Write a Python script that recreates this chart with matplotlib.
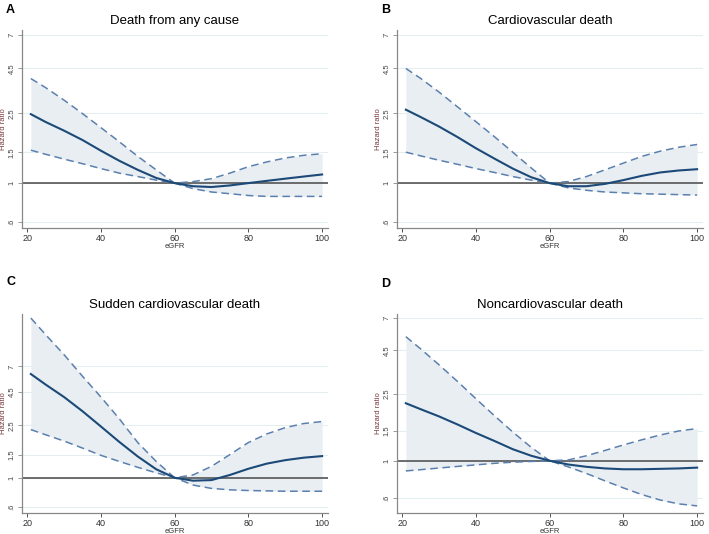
import numpy as np
import matplotlib
matplotlib.use("Agg")
import matplotlib.pyplot as plt

plt.rcParams['font.family'] = ['Liberation Sans', 'DejaVu Sans']

egfr = [21, 25, 30, 35, 40, 45, 50, 55, 60, 65, 70, 75, 80, 85, 90, 95, 100]

titles = ["Death from any cause", "Cardiovascular death",
          "Sudden cardiovascular death", "Noncardiovascular death"]
letters = ["A", "B", "C", "D"]

# hazard ratios
hr_a = [2.47, 2.23, 1.99, 1.76, 1.53, 1.34, 1.19, 1.07, 1.00, 0.96, 0.95, 0.97, 1.00, 1.03, 1.06, 1.09, 1.12]
up_a = [3.94, 3.50, 2.97, 2.49, 2.07, 1.72, 1.42, 1.19, 1.00, 1.02, 1.06, 1.14, 1.24, 1.32, 1.39, 1.44, 1.47]
lo_a = [1.54, 1.46, 1.37, 1.29, 1.21, 1.14, 1.09, 1.04, 1.00, 0.93, 0.89, 0.87, 0.85, 0.84, 0.84, 0.84, 0.84]

hr_b = [2.62, 2.38, 2.10, 1.83, 1.58, 1.38, 1.21, 1.08, 1.00, 0.96, 0.96, 0.99, 1.04, 1.10, 1.15, 1.18, 1.20]
up_b = [4.50, 3.95, 3.30, 2.72, 2.24, 1.84, 1.50, 1.22, 1.00, 1.02, 1.09, 1.19, 1.30, 1.42, 1.52, 1.60, 1.66]
lo_b = [1.50, 1.43, 1.35, 1.28, 1.21, 1.15, 1.09, 1.04, 1.00, 0.94, 0.91, 0.89, 0.88, 0.87, 0.865, 0.86, 0.855]

hr_c = [6.13, 5.10, 4.10, 3.20, 2.45, 1.87, 1.45, 1.16, 1.00, 0.95, 0.96, 1.05, 1.17, 1.28, 1.36, 1.42, 1.46]
up_c = [16.3, 12.2, 8.6, 5.9, 4.1, 2.8, 1.85, 1.33, 1.00, 1.05, 1.22, 1.50, 1.85, 2.15, 2.40, 2.58, 2.67]
lo_c = [2.32, 2.12, 1.90, 1.68, 1.48, 1.33, 1.20, 1.09, 1.00, 0.88, 0.83, 0.81, 0.80, 0.795, 0.79, 0.79, 0.79]

hr_d = [2.19, 2.02, 1.83, 1.64, 1.46, 1.31, 1.17, 1.07, 1.00, 0.95, 0.92, 0.90, 0.89, 0.89, 0.895, 0.90, 0.91]
up_d = [5.43, 4.60, 3.70, 2.95, 2.33, 1.85, 1.48, 1.20, 1.00, 1.01, 1.07, 1.15, 1.24, 1.33, 1.42, 1.50, 1.55]
lo_d = [0.87, 0.885, 0.905, 0.925, 0.945, 0.965, 0.98, 0.99, 1.00, 0.92, 0.84, 0.76, 0.69, 0.63, 0.585, 0.555, 0.54]

yticks = [0.6, 1, 1.5, 2.5, 4.5, 7]
yticklabels = [".6", "1", "1.5", "2.5", "4.5", "7"]
xticks = [20, 40, 60, 80, 100]

panels = [(hr_a, up_a, lo_a), (hr_b, up_b, lo_b), (hr_c, up_c, lo_c), (hr_d, up_d, lo_d)]
ylims = [(0.555, 7.45), (0.555, 7.45), (0.54, 17.5), (0.49, 7.4)]

W, H = 709, 534
# axes boxes in pixels: left, top, right, bottom
boxes = [(22, 30, 328, 228), (397, 30, 703, 228), (22, 314, 328, 513), (397, 314, 703, 513)]
letter_pos = [(6, 4), (381, 4), (6, 276), (381, 278)]

fill_c = "#e9eef3"
main_c = "#1c4a78"
dash_c = "#5b80ad"
grid_c = "#e4eef0"

fig = plt.figure(figsize=(W / 100, H / 100), dpi=100)

for i, (hr, up, lo) in enumerate(panels):
    l, t, r, b = boxes[i]
    ax = fig.add_axes([l / W, 1 - b / H, (r - l) / W, (b - t) / H])
    ax.set_yscale('log')
    ax.fill_between(egfr, lo, up, color=fill_c, lw=0, zorder=1)
    ax.axhline(1, color="#555555", lw=1.2, zorder=2)
    ax.plot(egfr, up, color=dash_c, lw=1.1, dashes=(5, 3), zorder=3)
    ax.plot(egfr, lo, color=dash_c, lw=1.1, dashes=(5, 3), zorder=3)
    ax.plot(egfr, hr, color=main_c, lw=1.5, zorder=4)

    ax.set_xlim(18.6, 101.6)
    ax.set_ylim(*ylims[i])
    ax.set_yticks(yticks)
    ax.set_yticklabels(yticklabels, rotation=90, va='center', fontsize=5.5, color="#444444")
    ax.minorticks_off()
    ax.set_xticks(xticks)
    ax.tick_params(axis='x', labelsize=6.5, colors="#333333", length=3, width=0.6, pad=1)
    ax.tick_params(axis='y', length=3, width=0.6, pad=1.5, colors="#888888")
    for lab in ax.get_yticklabels():
        lab.set_color("#444444")
    ax.yaxis.grid(True, color=grid_c, lw=0.8)
    ax.set_axisbelow(True)
    for s in ['top', 'right']:
        ax.spines[s].set_visible(False)
    ax.spines['left'].set_color("#888888")
    ax.spines['bottom'].set_color("#888888")
    ax.spines['left'].set_linewidth(0.9)
    ax.spines['bottom'].set_linewidth(0.9)

    ax.set_xlabel("eGFR", fontsize=5.5, color="#333333", labelpad=0)
    ax.set_ylabel("Hazard ratio", fontsize=5.5, color="#7a3b3b", labelpad=1)
    ax.set_title(titles[i], fontsize=9.5, pad=4)

    lx, ly = letter_pos[i]
    fig.text(lx / W, 1 - ly / H, letters[i], fontsize=9, fontweight='bold', va='top', ha='left')

fig.savefig("out.png", dpi=100)
